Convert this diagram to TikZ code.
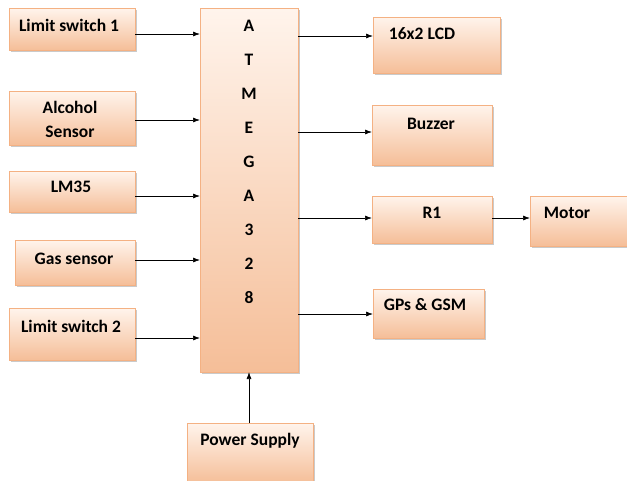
\documentclass[tikz,border=0pt]{standalone}
\usepackage{fontspec}
\setmainfont{Carlito}
\usetikzlibrary{arrows.meta,shadows}
\definecolor{boxline}{HTML}{F4B183}
\definecolor{boxtop}{HTML}{FFF4EC}
\definecolor{boxbot}{HTML}{F5BE98}
\tikzset{
  blk/.style={draw=boxline, line width=0.8pt, top color=boxtop, bottom color=boxbot,
    inner sep=0pt, outer sep=0pt,
    drop shadow={shadow xshift=2pt, shadow yshift=-2pt, fill=black!35, opacity=0.6}},
  lbl/.style={font=\fontsize{17.5}{24}\selectfont\bfseries, inner sep=0pt, align=center},
  conn/.style={-{Latex[length=7pt,width=5pt]}, line width=0.7pt, black}
}
\begin{document}
\begin{tikzpicture}[x=1pt,y=-1pt]
\useasboundingbox (0,0) rectangle (627,480);
% main controller
\node[blk, minimum width=98pt, minimum height=364pt] (atm) at (249,190) {};
\foreach \c [count=\i from 0] in {A,T,M,E,G,A,3,2,8} {
  \node[lbl] (atm\i) at (249,{26+34*\i}) {\c};
}
% inputs
\node[blk, minimum width=126pt, minimum height=42pt] (ls1) at (72,29) {};
\node[lbl] (ls1t) at (69,25) {Limit switch 1};
\node[blk, minimum width=126pt, minimum height=54pt] (alc) at (72,118) {};
\node[lbl] (alct) at (70,119) {Alcohol\\Sensor};
\node[blk, minimum width=126pt, minimum height=41pt] (lm) at (72,191.5) {};
\node[lbl] (lmt) at (71,187) {LM35};
\node[blk, minimum width=120pt, minimum height=45pt] (gas) at (75,262.5) {};
\node[lbl] (gast) at (74,259) {Gas sensor};
\node[blk, minimum width=126pt, minimum height=52pt] (ls2) at (72,334) {};
\node[lbl] (ls2t) at (71,326) {Limit switch 2};
% power
\node[blk, minimum width=126pt, minimum height=60pt] (ps) at (250,453) {};
\node[lbl] (pst) at (250,441) {Power Supply};
% outputs
\node[blk, minimum width=127pt, minimum height=56pt] (lcd) at (436.5,45) {};
\node[lbl] (lcdt) at (422,34) {16x2 LCD};
\node[blk, minimum width=120pt, minimum height=60pt] (buz) at (432,135) {};
\node[lbl] (buzt) at (431,124) {Buzzer};
\node[blk, minimum width=120pt, minimum height=47pt] (r1) at (432,219.5) {};
\node[lbl] (r1t) at (432,213) {R1};
\node[blk, minimum width=100pt, minimum height=50pt] (mot) at (580,221) {};
\node[lbl] (mott) at (567,213) {Motor};
\node[blk, minimum width=111pt, minimum height=49pt] (gps) at (428.5,313.5) {};
\node[lbl] (gpst) at (425,305) {GPs \& GSM};
% connectors
\draw[conn] (ls1.east |- 0,34) -- (atm.west |- 0,34);
\draw[conn] (alc.east |- 0,120) -- (atm.west |- 0,120);
\draw[conn] (lm.east |- 0,196) -- (atm.west |- 0,196);
\draw[conn] (gas.east |- 0,260) -- (atm.west |- 0,260);
\draw[conn] (ls2.east |- 0,338) -- (atm.west |- 0,338);
\draw[conn] (ps.north -| atm.south) -- (atm.south);
\draw[conn] (atm.east |- 0,36) -- (lcd.west |- 0,36);
\draw[conn] (atm.east |- 0,132) -- (buz.west |- 0,132);
\draw[conn] (atm.east |- 0,218) -- (r1.west |- 0,218);
\draw[conn] (r1.east |- 0,218) -- (mot.west |- 0,218);
\draw[conn] (atm.east |- 0,314) -- (gps.west |- 0,314);
\end{tikzpicture}
\end{document}
